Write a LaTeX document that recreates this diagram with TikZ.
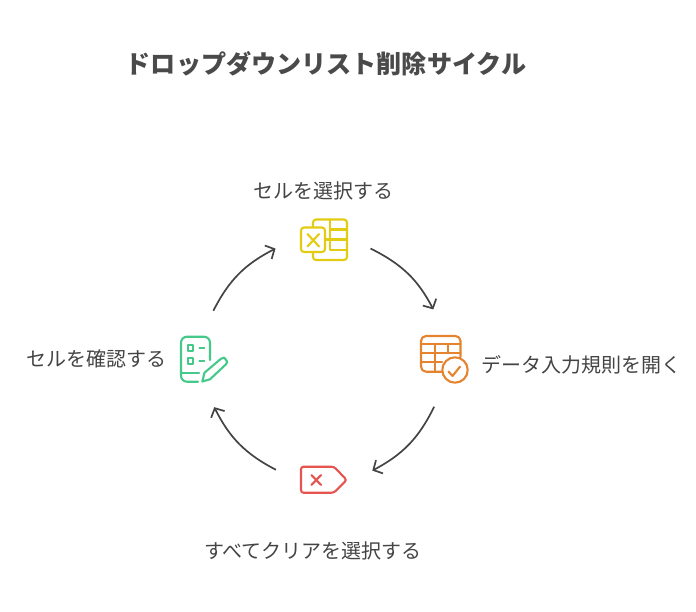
\documentclass[tikz,border=0pt]{standalone}
\usepackage{fontspec}
\usepackage{xcolor}
\usetikzlibrary{arrows.meta}
\setmainfont{Noto Sans CJK JP}
\definecolor{inkgray}{HTML}{444444}
\definecolor{titlegray}{HTML}{4A4A4A}
\definecolor{iconyellow}{HTML}{E3CB12}
\definecolor{iconorange}{HTML}{E5832F}
\definecolor{icongreen}{HTML}{45C98B}
\definecolor{iconred}{HTML}{E5544F}

\begin{document}
\begin{tikzpicture}[
      x=1pt, y=-1pt,
      label/.style={text=inkgray, font=\fontsize{20pt}{24pt}\selectfont, inner sep=0pt},
      heading/.style={text=titlegray, font=\fontsize{25.1pt}{30pt}\selectfont\bfseries, inner sep=0pt},
      iconspot/.style={circle, minimum size=98pt, inner sep=0pt},
      iconline/.style={line width=2.1pt, line cap=round, line join=round},
      flow/.style={draw=inkgray, line width=1.7pt, -{Straight Barb[length=7pt,width=15pt,line width=1.7pt]}, bend left=18}
    ]
    \useasboundingbox (0,0) rectangle (696,612);

    \node[heading] (title) at (326,64) {ドロップダウンリスト削除サイクル};
    \node[label] (labelcell) at (323.5,191) {セルを選択する};
    \node[label] (labelvalid) at (581.5,365) {データ入力規則を開く};
    \node[label] (labelclear) at (313,551) {すべてクリアを選択する};
    \node[label] (labelcheck) at (96,359) {セルを確認する};

    \node[iconspot] (cell) at (324,240) {};
    \node[iconspot] (valid) at (441,358) {};
    \node[iconspot] (clear) at (324,480) {};
    \node[iconspot] (check) at (204,359) {};

    % arrows round the cycle
    \draw[flow, shorten <=-2pt] (cell.-11) to (valid.99);
    \draw[flow] (valid.262) to (clear.11);
    \draw[flow] (clear.168) to (check.-78);
    \draw[flow] (check.79) to (cell.190);

    % cell icon
    \begin{scope}[iconline, draw=iconyellow]
      \draw (313,227) -- (313,222) [rounded corners=3pt] -- (313,219.5) -- (347,219.5) -- (347,260) -- (313,260) -- (313,252);
      \draw[rounded corners=3pt] (301,227.5) rectangle (325,252);
      \draw (330,219.5) -- (330,250) -- (347,250);
      \draw (330,229.5) -- (347,229.5);
      \draw (325,239.5) -- (347,239.5);
      \draw (307.5,234) -- (319,246.5);
      \draw (319,234) -- (307.5,246.5);
    \end{scope}

    % validation icon
    \begin{scope}[iconline, draw=iconorange]
      \draw[rounded corners=5pt] (442,371.7) -- (421,371.7) -- (421,336) -- (460.5,336) -- (460.5,357);
      \draw (421,344) -- (460.5,344);
      \draw (421,353.3) -- (460.5,353.3);
      \draw (421,361.7) -- (442,361.7);
      \draw (435,344) -- (435,371.7);
      \draw (447.7,344) -- (447.7,353.3);
      \draw (455,370) circle[radius=12.7];
      \draw (448.5,371.5) -- (452.5,376) -- (460,366.7);
    \end{scope}

    % clear icon
    \begin{scope}[iconline, draw=iconred]
      \draw[rounded corners=2.5pt] (334,466.7) -- (301,466.7) -- (301,492.7) -- (334,492.7) -- (346.7,480) -- cycle;
      \draw (311.5,475) -- (321,485);
      \draw (321,475) -- (311.5,485);
    \end{scope}

    % check icon
    \begin{scope}[iconline, draw=icongreen]
      \draw[rounded corners=6pt] (198,381.7) -- (181,381.7) -- (181,336.7) -- (210,336.7) -- (210,360);
      \draw (181,373.3) -- (199,373.3);
      \draw (187.7,345) rectangle (193.3,351);
      \draw (187.7,357.7) rectangle (193.3,363.7);
      \draw (199.3,348.3) -- (204.3,348.3);
      \draw (199.3,360.7) -- (204.3,360.7);
      \draw (202.3,381.5) -- (204.5,372.7) -- (221,358.7) -- (224.3,357.7) -- (227.3,361.7) -- (226,364.3) -- (210,379.3) -- cycle;
    \end{scope}
    \end{tikzpicture}
\end{document}
